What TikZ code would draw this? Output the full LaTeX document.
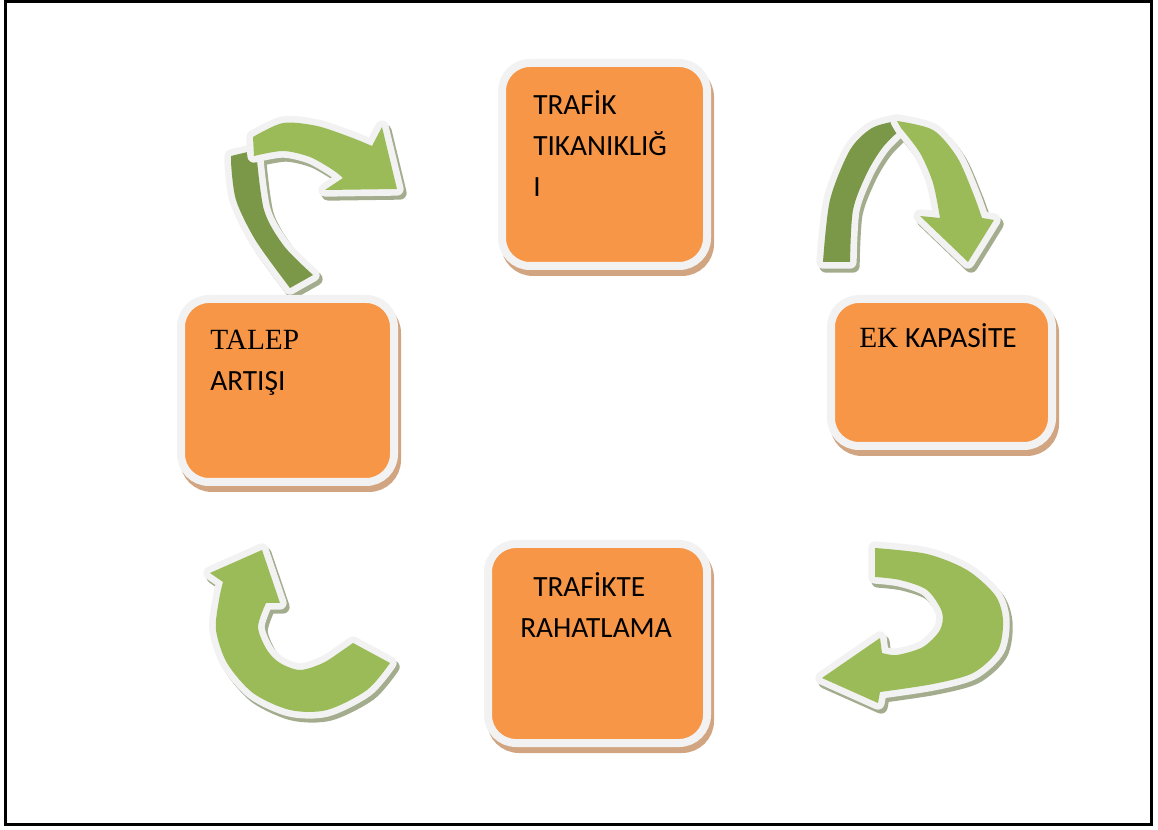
\documentclass[tikz,border=0pt]{standalone}
\usepackage{fontspec}
\setmainfont{Carlito}
\newfontfamily\timesfont{Liberation Serif}
\definecolor{boxorange}{HTML}{F79646}
\definecolor{boxshade}{HTML}{D2A582}
\definecolor{rimgray}{HTML}{F2F2F2}
\definecolor{leafgreen}{HTML}{9BBB59}
\definecolor{darkleaf}{HTML}{7B9848}
\definecolor{arrowshade}{HTML}{A3AD8E}

\begin{document}
\begin{tikzpicture}[x=0.75pt,y=-0.75pt,
    cyclebox/.style={rounded corners=21pt,fill=boxorange,draw=rimgray,line width=6pt,
        preaction={fill=boxshade,draw=boxshade,line width=6pt,transform canvas={shift={(2.25pt,-4.5pt)}}}},
    boxtext/.style={anchor=base west,align=left,inner sep=0pt,font=\fontsize{22}{31}\selectfont},
    greenarrow/.style={fill=#1,preaction={draw=rimgray,line width=10pt,line join=round}},
    arrowdrop/.style={fill=arrowshade,draw=arrowshade,line width=10pt,line join=round,shift={(3,4)}}]
    \useasboundingbox (0,0) rectangle (1158,830);
    \draw [line width=2.25pt] (5,1.5) rectangle (1151,824);
    % arrow outlines
    \def\arrowAback{(231,156) -- plot[smooth] coordinates {(231,162) (236,200) (256,241) (290,288)} -- (313,275) -- plot[smooth] coordinates {(313,275) (284,246) (264,210) (256,150)} -- cycle}
    \def\arrowAfront{(254,156) -- plot[smooth] coordinates {(253,137) (283,123) (317,126) (350,137) (372,146)} -- (382,127) -- (397,189) -- (325,190) -- plot[smooth] coordinates {(343,178) (333,170) (310,157) (283,151) (254,156)} -- cycle}
    \def\arrowBback{(823,262) -- plot[smooth] coordinates {(823,262) (830,200) (850,150) (872,128) (897,121)} -- (902,128) -- plot[smooth] coordinates {(902,128) (883,147) (867,173) (853,210) (850,262)} -- cycle}
    \def\arrowBfront{(897,121) -- plot[smooth] coordinates {(897,121) (933,130) (957,157) (973,193) (982,218)} -- (994,220) -- (968,262) -- (920,216) -- plot[smooth] coordinates {(940,218) (933,183) (920,153) (901,128)} -- cycle}
    \def\arrowC{(875,548) -- plot[smooth] coordinates {(875,577) (900,580) (927,590) (942,612) (940,630) (923,647) (897,655) (882,653)} -- (880,638) -- (822,678) -- (878,703) -- plot[smooth] coordinates {(880,692) (933,684) (973,673) (998,650) (1003,620) (995,595) (967,570) (927,554) (875,548)} -- cycle}
    \def\arrowD{(353,643) -- plot[smooth] coordinates {(390,663) (367,690) (327,710) (290,710) (253,693) (227,663) (216,630) (219,600) (223,582)} -- (210,573) -- (262,550) -- (280,603) -- plot[smooth] coordinates {(266,603) (258,627) (267,650) (280,663) (300,670) (323,663) (343,650) (353,643)} -- cycle}
    % shadows first
    \draw [arrowdrop] \arrowAback;
    \draw [arrowdrop] \arrowAfront;
    \draw [arrowdrop] \arrowBback;
    \draw [arrowdrop] \arrowBfront;
    \draw [arrowdrop] \arrowC;
    \draw [arrowdrop] \arrowD;
    \fill [greenarrow=darkleaf] \arrowAback;
    \fill [greenarrow=leafgreen] \arrowAfront;
    \fill [greenarrow=darkleaf] \arrowBback;
    \fill [greenarrow=leafgreen] \arrowBfront;
    \fill [greenarrow=leafgreen] \arrowC;
    \fill [greenarrow=leafgreen] \arrowD;
    % boxes
    \node [cyclebox,minimum width=153.75pt,minimum height=152.25pt] (tik) at (604.5,164.5) {};
    \node [cyclebox,minimum width=159.75pt,minimum height=137.25pt] (talep) at (287.5,390.5) {};
    \node [cyclebox,minimum width=165.75pt,minimum height=110.25pt] (ek) at (941.5,372.5) {};
    \node [cyclebox,minimum width=164.25pt,minimum height=149.25pt] (rahat) at (597.5,643.5) {};
    % base anchor sits on the last line
    \node [boxtext] (tiktext) at ([shift={(35,138)}]tik.north west) {TRAFİK\\TIKANIKLIĞ\\I};
    \node [boxtext] (taleptext) at ([shift={(33,96)}]talep.north west) {{\timesfont TALEP}\\ARTIŞI};
    \node [boxtext] (ektext) at ([shift={(32,53)}]ek.north west) {{\timesfont EK} KAPASİTE};
    \node [boxtext] (rahattext) at ([shift={(36,98)}]rahat.north west) {\hspace*{9.75pt}TRAFİKTE\\RAHATLAMA};
\end{tikzpicture}
\end{document}
